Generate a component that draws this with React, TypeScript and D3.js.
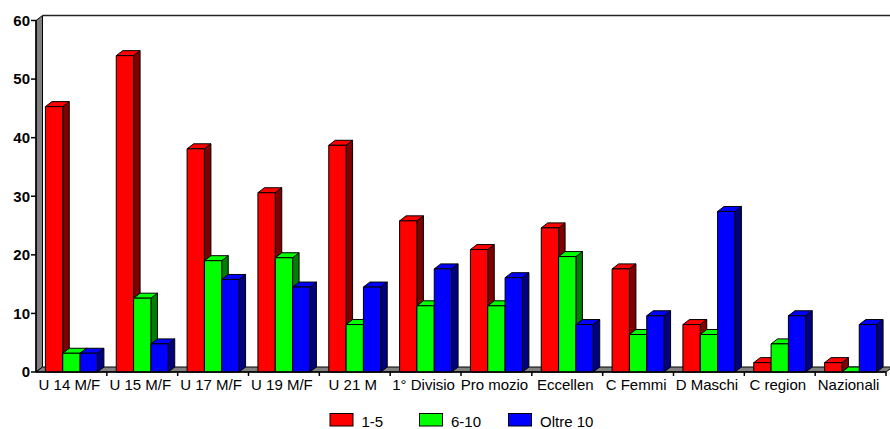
import React from "react";
import * as d3 from "d3";

const categories = ["U 14 M/F", "U 15 M/F", "U 17 M/F", "U 19 M/F", "U 21 M", "1° Divisio", "Pro mozio", "Eccellen", "C Femmi", "D Maschi", "C region", "Nazionali"];
const seriesNames = ["1-5", "6-10", "Oltre 10"];
const red15 = [45.3, 54.0, 38.1, 30.6, 38.7, 25.8, 20.9, 24.6, 17.6, 8.1, 1.6, 1.6];
const green610 = [3.2, 12.6, 19.0, 19.5, 8.1, 11.3, 11.3, 19.7, 6.4, 6.4, 4.8, 0];
const blueOltre = [3.2, 4.8, 15.8, 14.5, 14.5, 17.6, 16.1, 8.1, 9.6, 27.4, 9.6, 8.1];
const yTicks = [0, 10, 20, 30, 40, 50, 60];

const frontColors = ["#ff0000", "#00ff00", "#0000ff"];
const sideColors = ["#800000", "#008000", "#000080"];

const W = 890;
const H = 429;
const DX = 6.5;
const DY = 5;
const FONT = "'Liberation Sans', Arial, sans-serif";

export default function App() {
  const series = [red15, green610, blueOltre];
  const x = d3.scaleBand<string>().domain(categories).range([36, 886]).paddingInner(0).paddingOuter(0);
  const bw = x.bandwidth();
  const groupW = bw * 0.734;
  const inner = d3.scaleBand<string>().domain(seriesNames).range([(bw - groupW) / 2, (bw + groupW) / 2]).padding(0);
  const y = d3.scaleLinear().domain([0, 60]).range([372, 20.5]);
  const x0 = x.range()[0];
  const x1 = x.range()[1];
  const yb = y(0);
  const yt = y(60);

  const pts = (arr: number[][]) => arr.map((p) => p.join(",")).join(" ");

  const bars: React.ReactNode[] = [];
  categories.forEach((c, ci) => {
    series.forEach((s, si) => {
      const v = s[ci];
      const bx = (x(c) as number) + (inner(seriesNames[si]) as number);
      const w = inner.bandwidth();
      const top = y(v);
      bars.push(
        <g key={`${ci}-${si}`} stroke="#000" strokeWidth={1} strokeLinejoin="round">
          <polygon points={pts([[bx + w, top], [bx + w + DX, top - DY], [bx + w + DX, yb - DY], [bx + w, yb]])} fill={sideColors[si]} />
          <polygon points={pts([[bx, top], [bx + w, top], [bx + w + DX, top - DY], [bx + DX, top - DY]])} fill={frontColors[si]} />
          {v > 0 && <rect x={bx} y={top} width={w} height={yb - top} fill={frontColors[si]} />}
        </g>
      );
    });
  });

  const legendX = [330, 419.5, 508.5];

  return (
    <svg width={W} height={H} style={{ position: "absolute", left: 0, top: 0, background: "#fff" }} fontFamily={FONT}>
      <rect x={0} y={0} width={W} height={H} fill="#fff" />
      {/* left wall */}
      <polygon points={pts([[x0, yt], [x0 + DX, yt - DY], [x0 + DX, yb - DY], [x0, yb]])} fill="#808080" stroke="#000" strokeWidth={1} />
      {/* floor */}
      <polygon points={pts([[x0, yb], [x0 + DX, yb - DY], [x1 + DX, yb - DY], [x1, yb]])} fill="#808080" stroke="#000" strokeWidth={1} />
      {/* back frame top */}
      <line x1={x0 + DX} y1={yt - DY} x2={W} y2={yt - DY} stroke="#222" strokeWidth={1.5} />
      {bars}
      {/* axes */}
      <line x1={x0} y1={yt} x2={x0} y2={yb} stroke="#000" strokeWidth={1.5} />
      <line x1={x0} y1={yb} x2={x1} y2={yb} stroke="#000" strokeWidth={1.5} />
      {yTicks.map((t) => (
        <g key={t}>
          <line x1={x0 - 5} x2={x0} y1={y(t)} y2={y(t)} stroke="#000" strokeWidth={1.5} />
          <text x={x0 - 6} y={y(t)} dy="0.36em" textAnchor="end" fontSize={15} fontWeight="bold" fill="#000">{t}</text>
        </g>
      ))}
      {categories.map((c) => (
        <line key={"t" + c} x1={(x(c) as number) + bw} x2={(x(c) as number) + bw} y1={yb} y2={yb + 4} stroke="#000" strokeWidth={1.5} />
      ))}
      {categories.map((c) => (
        <text key={"l" + c} x={(x(c) as number) + bw / 2 - 2} y={390} textAnchor="middle" fontSize={15} fill="#000">{c}</text>
      ))}
      {/* legend */}
      {seriesNames.map((n, i) => (
        <g key={n}>
          <rect x={legendX[i]} y={413.5} width={23} height={12.5} fill={frontColors[i]} stroke="#000" strokeWidth={1} />
          <text x={legendX[i] + 31.5} y={426.5} fontSize={15} fill="#000">{n}</text>
        </g>
      ))}
    </svg>
  );
}
